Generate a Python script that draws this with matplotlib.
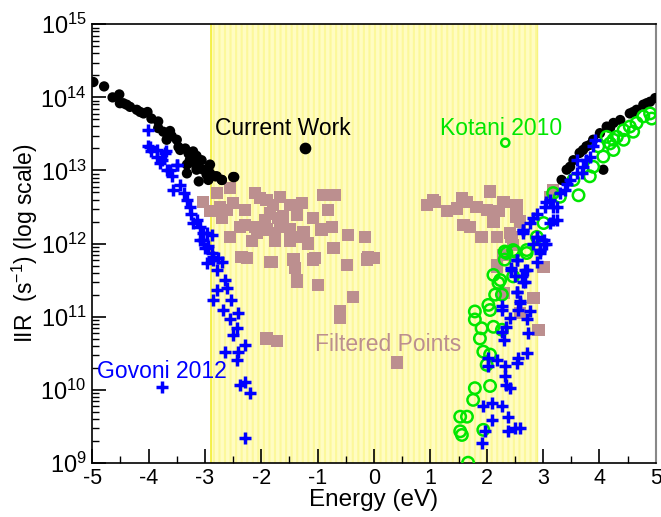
import numpy as np
import matplotlib
matplotlib.use("Agg")
import matplotlib.pyplot as plt
from matplotlib.ticker import FixedLocator, LogLocator, NullFormatter

plt.rcParams['font.family'] = ['Liberation Sans', 'DejaVu Sans']
plt.rcParams['mathtext.fontset'] = 'custom'
plt.rcParams['mathtext.rm'] = 'Liberation Sans'
plt.rcParams['mathtext.it'] = 'Liberation Sans:italic'
plt.rcParams['hatch.linewidth'] = 1.5

# ---------------- data (energy in eV, log10 IIR) ----------------
cw_left_x = [-4.98, -4.79, -4.64, -4.52, -4.45, -4.33, -4.21, -4.09, -4.02, -3.95, -3.83, -3.83,
             -3.74, -3.62, -3.59, -3.50, -3.47, -3.35, -3.29, -3.21, -3.15, -3.32, -3.18, -3.06,
             -3.15, -3.03, -2.97, -2.91, -2.82, -2.70, -2.50, -4.51, -4.39, -4.15, -3.68, -3.44,
             -3.27, -2.94, -3.11, -2.94, -2.79, -2.70, -2.48, -3.32, -3.15, -2.91]
cw_left_y = [14.21, 14.15, 14.00, 14.04, 13.92, 13.87, 13.83, 13.78, 13.80, 13.71, 13.67, 13.58,
             13.53, 13.54, 13.47, 13.42, 13.32, 13.30, 13.23, 13.26, 13.20, 13.08, 13.10, 13.14,
             13.01, 13.01, 12.94, 12.96, 12.92, 12.87, 12.91, 13.92, 13.90, 13.80, 13.42, 13.28,
             13.14, 13.03, 12.85, 12.87, 12.92, 12.87, 12.91, 12.96, 13.05, 13.08]
cw_right_x = [3.42, 3.54, 3.65, 3.77, 3.89, 4.01, 4.13, 4.25, 4.37, 4.54, 4.66, 4.78, 4.90, 4.99,
              4.07, 3.33, 3.48, 3.71, 3.83, 4.19, 4.60, 4.84]
cw_right_y = [13.01, 13.14, 13.24, 13.33, 13.42, 13.51, 13.60, 13.65, 13.69, 13.78, 13.83, 13.90,
              13.94, 13.99, 13.01, 12.87, 13.05, 13.28, 13.35, 13.58, 13.80, 13.92]

gov_x = [-4.01, -4.01, -3.95, -3.86, -3.80, -3.71, -3.68, -3.50, -3.59, -3.56, -3.44, -3.38,
         -3.32, -3.27, -3.24, -3.15, -3.09, -2.97, -3.03, -2.94, -2.88, -2.85, -3.98, -3.86,
         -3.69, -3.49, -3.77, -3.62, -3.21, -3.03, -2.88, -3.00, -2.85, -2.70, -2.97, -2.79,
         -2.64, -2.61, -2.79, -2.85, -2.53, -2.68, -2.41, -2.56, -2.44, -2.50, -2.29, -2.64,
         -2.41, -2.44, -2.29, -2.38, -2.20, -2.29, -3.09, -2.76,
         1.91, 1.97, 2.09, 1.94, 2.09, 2.27, 2.38, 2.38, 2.50, 2.59, 2.03, 2.18, 2.03, 2.32,
         2.32, 2.35, 2.41, 2.56, 2.71, 2.53, 2.27, 2.30, 2.35, 2.41, 2.27, 2.56, 2.77, 2.71,
         2.74, 2.59, 2.53, 2.62, 2.68, 2.44, 2.53, 2.71, 2.89, 2.95, 2.83, 3.01, 2.65, 2.65,
         2.77, 2.89, 3.06, 2.95, 3.04, 3.12, 3.24, 3.30, 3.42, 3.48, 3.60, 3.24, 3.39, 3.71,
         3.77, 3.89, 3.83, 3.60, 3.69, 3.92, 3.12, 2.89, 3.06, 3.18, 2.83, 2.65, 2.89, 3.01,
         2.95, 2.53, 2.44, 2.68, 2.50, 2.65, 2.53, 2.59, 2.27, 3.18]
gov_y = [13.55, 13.33, 13.26, 13.19, 13.10, 13.24, 13.01, 13.08, 12.92, 12.73, 12.80, 12.69,
         12.60, 12.50, 12.41, 12.32, 12.23, 12.14, 12.05, 11.96, 11.87, 11.78, 13.32, 13.28,
         13.26, 13.08, 13.14, 13.01, 12.28, 12.14, 12.12, 11.94, 11.82, 11.75, 11.73, 11.64,
         11.50, 11.39, 11.37, 11.23, 11.23, 11.09, 11.05, 10.96, 10.84, 10.75, 10.61, 10.52,
         10.52, 10.41, 10.11, 10.07, 9.96, 9.34, 12.05, 11.80,
         9.27, 9.43, 9.59, 9.77, 9.82, 9.77, 9.63, 9.43, 9.47, 9.47, 10.43, 10.41, 10.32, 10.32,
         10.18, 10.07, 10.02, 10.43, 10.50, 10.36, 10.79, 10.68, 10.86, 10.98, 11.09, 11.09, 11.07, 10.96,
         10.77, 11.21, 11.34, 11.55, 11.48, 11.64, 11.78, 11.64, 11.75, 11.91, 12.00, 12.05, 12.14, 12.19,
         12.28, 12.09, 12.00, 11.91, 12.50, 12.60, 12.50, 12.69, 12.82, 12.87, 12.96, 12.32, 12.73, 13.05,
         13.14, 13.33, 13.19, 13.14, 12.96, 13.42, 12.28, 12.41, 12.57, 12.50, 12.35, 12.19, 12.09, 12.00,
         11.87, 11.78, 11.66, 11.64, 11.55, 11.48, 11.34, 11.18, 11.14, 12.32]

kot_x = [1.67, 1.53, 1.56, 1.94, 1.53, 1.65, 1.76, 1.79, 2.06, 1.94, 2.06, 2.00, 1.88, 1.91,
         1.79, 1.79, 2.12, 2.27, 2.06, 2.15, 2.27, 2.03, 2.21, 2.24, 2.12, 2.35, 2.50, 2.32,
         2.47, 2.71, 2.32, 2.47, 2.71, 3.01, 2.89, 3.18, 3.30, 3.63, 3.54, 3.83, 3.89, 4.07,
         4.19, 4.25, 4.31, 4.43, 4.54, 4.66, 4.78, 4.90, 4.93, 4.13, 3.98, 4.60, 4.43, 4.25]
kot_y = [9.00, 9.43, 9.38, 9.45, 9.63, 9.63, 9.86, 10.02, 10.05, 10.52, 10.48, 10.34, 10.70, 10.84,
         10.96, 11.07, 10.86, 10.82, 11.09, 11.30, 11.30, 11.16, 11.46, 11.50, 11.57, 11.87, 11.89, 11.78,
         11.55, 11.91, 11.89, 11.91, 11.87, 12.28, 12.09, 12.69, 12.64, 12.66, 12.87, 12.92, 13.05, 13.19,
         13.37, 13.28, 13.46, 13.55, 13.60, 13.65, 13.74, 13.78, 13.71, 13.46, 13.33, 13.53, 13.42, 13.42]

filt_x = [-3.03, -2.79, -2.56, -2.91, -2.70, -2.50, -2.29, -2.38, -2.11, -1.91, -1.67, -1.49,
          -1.28, -0.90, -0.69, -0.81, -1.08, -0.93, -0.75, -1.37, -1.70, -1.93, -2.11, -2.29,
          -1.91, -1.67, -1.49, -1.25, -2.56, -2.17, -1.76, -1.49, -1.17, -0.46, -0.16, -0.72,
          -2.35, -2.26, -1.85, -1.43, -1.05, -1.40, -0.48, -0.13, -0.01, -1.37, -0.99, -0.37,
          -0.60, -2.02, -1.79, -1.85, -1.61, -2.62, -2.73, -1.76, -1.37, -2.08, -1.37, -1.91,
          -1.72, -1.08, -1.82, -0.60, -0.72, -0.11,
          2.18, 2.83, 2.92, 2.59, 2.30,
          0.94, 1.08, 1.29, 1.56, 1.65, 1.47, 1.82, 2.06, 2.30, 2.53, 2.00, 2.21, 2.12, 1.59,
          1.70, 1.91, 2.18, 2.44, 2.59, 2.53, 2.47, 2.30, 2.18, 3.01, 3.18, 3.12, 1.05, 2.41]
filt_y = [12.57, 12.69, 12.76, 12.44, 12.35, 12.55, 12.46, 12.23, 12.69, 12.60, 12.64, 12.53,
          12.55, 12.66, 12.66, 12.46, 12.35, 12.19, 12.23, 12.39, 12.35, 12.32, 12.23, 12.25,
          12.19, 12.23, 12.19, 12.16, 12.09, 12.03, 12.03, 12.03, 12.00, 12.12, 12.09, 11.94,
          11.82, 11.80, 11.75, 11.78, 11.80, 11.66, 11.71, 11.78, 11.80, 11.48, 11.43, 11.27,
          11.07, 12.62, 12.53, 12.41, 12.37, 12.46, 12.50, 12.14, 12.09, 12.14, 11.50, 10.70,
          10.67, 11.78, 11.75, 10.98, 12.66, 11.82,
          11.71, 11.25, 10.82, 11.05, 11.32,
          12.53, 12.57, 12.44, 12.62, 12.57, 12.48, 12.50, 12.71, 12.57, 12.53, 12.46, 12.44, 12.30, 12.25,
          12.23, 12.09, 12.09, 12.09, 12.30, 12.37, 11.98, 11.84, 11.68, 11.68, 12.73, 12.64, 12.60, 12.14]

band_lo, band_hi = -2.9, 2.9

# legend-style labels: (text, text_x, text_logy, marker_x, marker_logy)
lbl_cw = ("Current Work", -2.82, 13.48, -1.22, 13.31)
lbl_kot = ("Kotani 2010", 1.17, 13.48, 2.33, 13.38)
lbl_gov = ("Govoni 2012", -4.92, 10.16, -3.76, 10.03)
lbl_filt = ("Filtered Points", -1.05, 10.53, 0.41, 10.37)

xticks_major = [-5, -4, -3, -2, -1, 0, 1, 2, 3, 4, 5]
yticks_exp = [9, 10, 11, 12, 13, 14, 15]

c_black = '#000000'
c_blue = '#0000ff'
c_green = '#00e600'
c_filt = '#bc8f8f'

def p(v):
    return np.power(10.0, np.asarray(v))

fig = plt.figure(figsize=(6.61, 5.17), dpi=100)
ax = fig.add_axes([0.1396, 0.105, 0.8524, 0.848])

ax.axvspan(band_lo, band_hi, facecolor='#fffcc2', edgecolor='#fcf89a', hatch='|||',
           linewidth=0, zorder=0)
ax.axvline(band_lo, color='#f2ee30', lw=1.2, zorder=0.5)
ax.axvline(band_hi, color='#f7f480', lw=1.0, zorder=0.5)

s_dot, s_sq, s_plus, s_ring = 55, 78, 85, 68

ax.scatter(filt_x, p(filt_y), marker='s', s=s_sq, color=c_filt, edgecolors='none', zorder=2)
ax.scatter(cw_left_x + cw_right_x, p(cw_left_y + cw_right_y), marker='o', s=s_dot,
           color=c_black, edgecolors='none', zorder=3)
ax.scatter(kot_x, p(kot_y), marker='o', s=s_ring, facecolors='none', edgecolors=c_green,
           linewidths=1.8, zorder=4)
ax.scatter(gov_x, p(gov_y), marker='+', s=s_plus, color=c_blue, linewidths=2.5, zorder=5)

# labels with markers
fs = 16.5
ax.text(lbl_cw[1], p(lbl_cw[2]), lbl_cw[0], color=c_black, fontsize=fs, zorder=6)
ax.scatter([lbl_cw[3]], [p(lbl_cw[4])], marker='o', s=s_dot, color=c_black, zorder=6)
ax.text(lbl_kot[1], p(lbl_kot[2]), lbl_kot[0], color=c_green, fontsize=fs, zorder=6)
ax.scatter([lbl_kot[3]], [p(lbl_kot[4])], marker='o', s=34, facecolors='none',
           edgecolors=c_green, linewidths=1.8, zorder=6)
ax.text(lbl_gov[1], p(lbl_gov[2]), lbl_gov[0], color=c_blue, fontsize=fs, zorder=6)
ax.scatter([lbl_gov[3]], [p(lbl_gov[4])], marker='+', s=s_plus, color=c_blue, linewidths=2.5, zorder=6)
ax.text(lbl_filt[1], p(lbl_filt[2]), lbl_filt[0], color=c_filt, fontsize=fs, zorder=6)
ax.scatter([lbl_filt[3]], [p(lbl_filt[4])], marker='s', s=s_sq, color=c_filt, edgecolors='none', zorder=6)

ax.set_yscale('log')
ax.set_xlim(-5, 5)
ax.set_ylim(1e9, 1e15)

ax.xaxis.set_major_locator(FixedLocator(xticks_major))
ax.xaxis.set_minor_locator(FixedLocator([v + 0.5 for v in xticks_major[:-1]]))
ax.set_xticklabels([str(v) for v in xticks_major])
ax.yaxis.set_major_locator(FixedLocator([10.0 ** e for e in yticks_exp]))
ax.set_yticklabels([r'$\mathregular{10^{%d}}$' % e for e in yticks_exp])
ax.yaxis.set_minor_locator(LogLocator(base=10, subs=np.arange(2, 10), numticks=100))
ax.yaxis.set_minor_formatter(NullFormatter())

ax.tick_params(axis='both', which='major', direction='in', length=10, width=1.2,
               labelsize=15.5, top=False, right=False)
ax.tick_params(axis='both', which='minor', direction='in', length=5, width=1.0,
               top=False, right=False)
ax.tick_params(axis='x', which='major', pad=4)
ax.tick_params(axis='y', which='major', labelsize=17, pad=4)

for s in ['left', 'bottom', 'top']:
    ax.spines[s].set_linewidth(1.2)
ax.spines['right'].set_color('#888888')
ax.spines['right'].set_linewidth(1.5)

ax.set_xlabel('Energy (eV)', fontsize=17.5, labelpad=0)
ax.set_ylabel(r'IIR  (s$^{\mathregular{-1}}$) (log scale)', fontsize=16.5, labelpad=0)

fig.savefig('out.png', dpi=100)
